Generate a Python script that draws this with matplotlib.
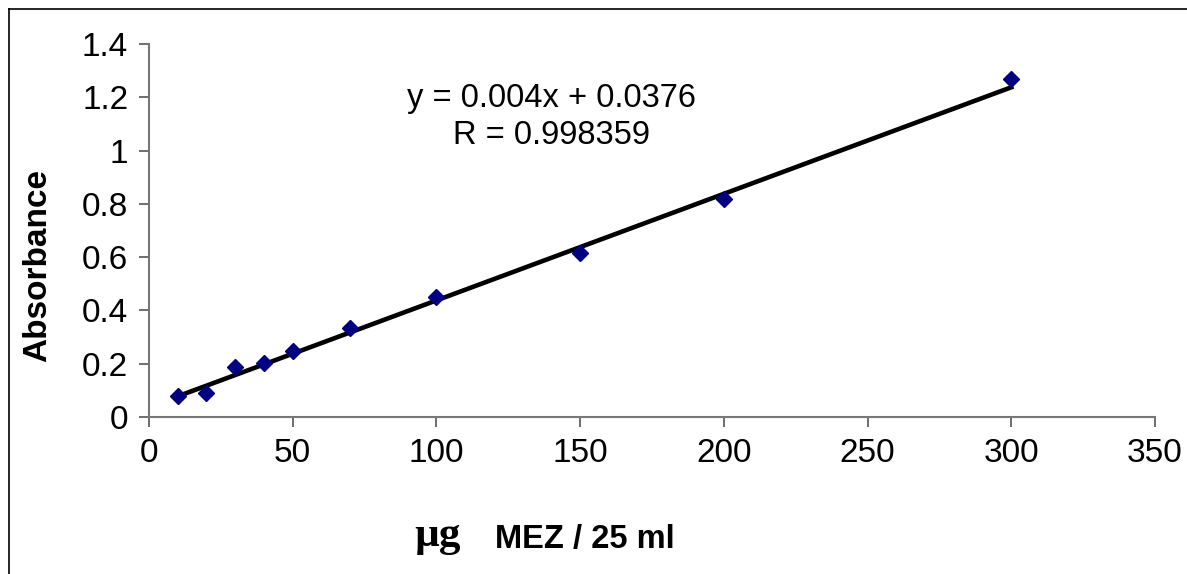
import matplotlib.pyplot as plt
from matplotlib.lines import Line2D

plt.rcParams['font.family'] = ['Liberation Sans', 'DejaVu Sans']

# calibration data
conc = [10, 20, 30, 40, 50, 70, 100, 150, 200, 300]
absorb = [0.080, 0.089, 0.187, 0.204, 0.248, 0.333, 0.452, 0.616, 0.817, 1.269]
slope = 0.004
intercept = 0.0376
xticks = [0, 50, 100, 150, 200, 250, 300, 350]
yticks = [0, 0.2, 0.4, 0.6, 0.8, 1, 1.2, 1.4]
ytick_labels = ['0', '0.2', '0.4', '0.6', '0.8', '1', '1.2', '1.4']

fig = plt.figure(figsize=(11.87, 5.74), dpi=100)
ax = fig.add_axes([0.1255, 0.2735, 0.8475, 0.6498])

# trend line over the data range
fit_x = [min(conc), max(conc)]
fit_y = [slope * v + intercept for v in fit_x]
ax.plot(fit_x, fit_y, color='black', lw=3.3, zorder=2)
ax.plot(conc, absorb, linestyle='none', marker='D', markersize=8,
        color='#000080', zorder=3)

ax.set_xlim(0, 350)
ax.set_ylim(0, 1.4)
ax.set_xticks(xticks)
ax.set_yticks(yticks)
ax.set_yticklabels(ytick_labels)
ax.tick_params(labelsize=24, length=7, width=1.2, color='#555555', pad=8)

for side in ['top', 'right']:
    ax.spines[side].set_visible(False)
for side in ['left', 'bottom']:
    ax.spines[side].set_color('#777777')
    ax.spines[side].set_linewidth(1.5)

fig.text(0.4645, 1 - 98.5 / 574, 'y = 0.004x + 0.0376', ha='center', va='center',
         fontsize=23.5)
fig.text(0.4645, 1 - 135.5 / 574, 'R = 0.998359', ha='center', va='center',
         fontsize=23.5)

fig.text(38 / 1187, 1 - 266 / 574, 'Absorbance', rotation=90, fontsize=24,
         fontweight='bold', ha='center', va='center')

# x-axis label: serif micro sign followed by sans text
fig.text(0.3686, 1 - 546 / 574, 'µg', fontsize=31, fontweight='bold',
         family=['Liberation Serif', 'DejaVu Serif'], ha='center', va='baseline')
fig.text(0.4924, 1 - 548 / 574, 'MEZ / 25 ml', fontsize=23.5, fontweight='bold',
         ha='center', va='baseline')

# outer chart border (left and top edges visible)
fig.add_artist(Line2D([0.0075, 0.0075], [0, 0.984], color='black', lw=1.2,
                      transform=fig.transFigure))
fig.add_artist(Line2D([0.0075, 1], [0.984, 0.984], color='black', lw=1.2,
                      transform=fig.transFigure))

fig.savefig('out.png', dpi=100)
